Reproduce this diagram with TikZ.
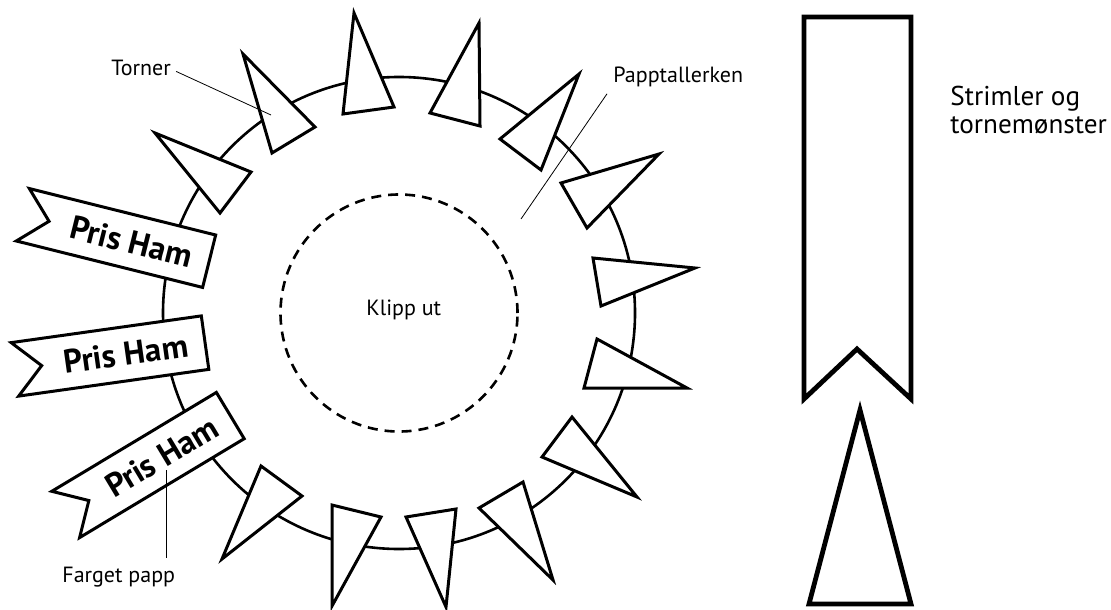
\documentclass[tikz,border=0pt]{standalone}
\usepackage{fontspec}
\setmainfont{PT Sans}
\usetikzlibrary{positioning,calc}

\begin{document}
\begin{tikzpicture}[x=0.5pt, y=-0.5pt,
    plate/.style={draw, circle, line width=1.3pt, minimum size=236pt,
        inner sep=0pt},
    cutline/.style={draw, circle, line width=1.3pt, minimum size=118.5pt,
        inner sep=0pt, dash pattern=on 5pt off 3.5pt},
    thorn/.style={draw, fill=white, line width=1.5pt},
    banner/.style={draw, fill=white, line width=1.5pt},
    bannertext/.style={font=\fontsize{16.5}{18}\selectfont\bfseries,
        inner sep=0pt},
    tmpl/.style={draw, line width=2.4pt},
    lbl/.style={font=\fontsize{11}{13}\selectfont, inner sep=0pt},
    leader/.style={draw, line width=0.4pt},
]
\useasboundingbox (0,0) rectangle (1111,609);

% Paper plate and the part to cut out
\node[plate] (plate) at (399,313) {};
\node[cutline] (cut) at (399,313) {};
\node[lbl, anchor=base west] (klipp) at (366,315) {Klipp ut};

% Thorns round the rim
\foreach \ax/\ay/\bx/\by/\cx/\cy in {
    243/54/315/127/272/153, 155/133/251/172/220/213,
    354/13/394/107/343/114, 479/23/480/126/430/113,
    579/74/500/139/541/170, 659/154/561/183/587/228,
    695/268/593/258/601/306, 687/388/597/339/584/388,
    637/497/572/417/542/457, 553/580/523/482/479/508,
    446/607/456/509/406/517, 222/559/261/466/302/496,
    332/606/332/505/381/517}
    \draw[thorn] (\ax,\ay) -- (\bx,\by) -- (\cx,\cy) -- cycle;

% Coloured strips
\foreach \bx/\by/\ang [count=\i] in {116/238/-14, 110/356/8, 148/465/31}{
    \begin{scope}[shift={(\bx,\by)}, rotate=\ang]
        \draw[banner] (-96,-27) -- (96,-27) -- (96,27) -- (-96,27)
            -- (-69,0) -- cycle;
        \node[bannertext, rotate=\ang] (prize\i) at (16,0) {Pris Ham};
    \end{scope}
}

% Labels
\coordinate (tornpt) at (271,115);
\coordinate (platept) at (521,219);
\coordinate (papppt) at (166,470);
\node[lbl, anchor=base west] (torner) at (111,76) {Torner};
\node[lbl, anchor=base west] (papptal) at (613,83) {Papptallerken};
\node[lbl, anchor=base west] (farget) at (62,582) {Farget papp};
\draw[leader] ($(torner.east)+(5,3)$) -- (tornpt);
\draw[leader] ($(papptal.south west)+(-6,6)$) -- (platept);
\draw[leader] (papppt) -- ($(papppt |- farget.north)+(0,-8)$);

% Strip and thorn templates
\draw[tmpl] (804,17) -- (911,17) -- (911,399) -- (857,349) -- (804,399)
    -- cycle;
\draw[tmpl] (860,410) -- (911,604) -- (809,604) -- cycle;
\node[font=\fontsize{13.6}{13.8}\selectfont, align=left, anchor=north west,
    inner sep=0pt] (strimler) at (950,86) {Strimler og\\tornemønster};
\end{tikzpicture}
\end{document}
